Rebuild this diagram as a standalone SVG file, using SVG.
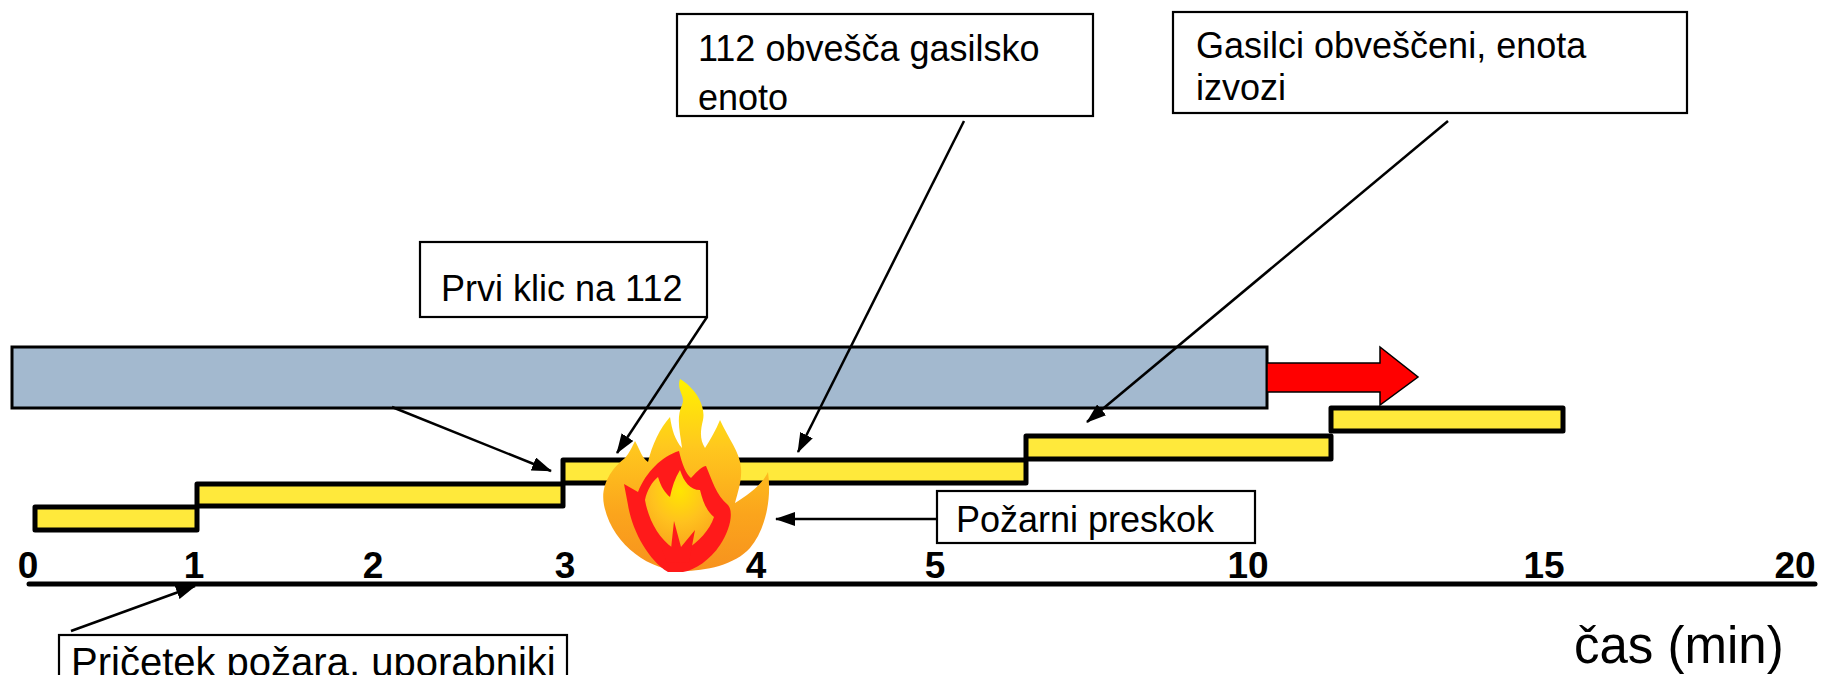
<svg xmlns="http://www.w3.org/2000/svg" width="1827" height="675" viewBox="0 0 1827 675">
<style>
.box{fill:#fff;stroke:#000;stroke-width:2.2}
.lbl{font-family:"Liberation Sans",Arial,sans-serif;font-size:36px;fill:#000}
.num{font-family:"Liberation Sans",Arial,sans-serif;font-size:37px;font-weight:bold;fill:#000;text-anchor:middle}
.step{fill:#FFE93B;stroke:#000;stroke-width:5;stroke-linejoin:round}
.con{stroke:#000;stroke-width:2.5;fill:none;marker-end:url(#ah)}
</style>
<defs>
<marker id="ah" markerUnits="userSpaceOnUse" markerWidth="20" markerHeight="14" refX="19" refY="7" orient="auto">
<path d="M0,0 L20,7 L0,14 z" fill="#000"/>
</marker>
<linearGradient id="flameG" x1="0" y1="0" x2="0" y2="1" gradientUnits="objectBoundingBox">
<stop offset="0" stop-color="#FFF200"/>
<stop offset="0.35" stop-color="#FFC81E"/>
<stop offset="0.7" stop-color="#FBA51C"/>
<stop offset="1" stop-color="#F7921E"/>
</linearGradient>
<radialGradient id="innerG" cx="0.5" cy="0.25" r="0.8">
<stop offset="0" stop-color="#FFE600"/>
<stop offset="0.5" stop-color="#FFC21E"/>
<stop offset="1" stop-color="#F9A01B"/>
</radialGradient>
</defs>
<rect width="1827" height="675" fill="#fff"/>

<g id="timeline-bar">
<rect x="12" y="347" width="1255" height="61" fill="#A3B9CF" stroke="#000" stroke-width="3"/>
</g>
<g id="red-arrow">
<path d="M1267,363 L1380,363 L1380,347 L1418,377 L1380,405 L1380,392 L1267,392 Z" fill="#FF0000" stroke="#000" stroke-width="1.5"/>
</g>

<g id="steps">
<rect class="step" x="35" y="507" width="162" height="23"/>
<rect class="step" x="197" y="484" width="366" height="22"/>
<rect class="step" x="563" y="460" width="463" height="23"/>
<rect class="step" x="1026" y="436" width="305" height="23"/>
<rect class="step" x="1331" y="408" width="232" height="23"/>
</g>

<g id="fire">
<path d="M683,571 C650,571 612,545 604,505 C600,485 612,468 625,458 C630,452 632,447 635,441 C640,450 642,458 648,462 C652,445 660,428 670,417 C672,430 675,440 682,448 C680,432 676,418 682,405 C686,396 676,390 680,379 C695,388 706,405 703,420 C700,432 700,440 705,448 C710,440 716,430 720,420 C728,438 740,452 741,468 C742,480 738,492 735,503 C748,495 762,485 768,472 C772,500 765,530 750,548 C735,565 705,571 683,571 Z" fill="url(#flameG)"/>
<path d="M668,572 C648,560 632,530 628,505 L624,484 L638,492 C646,472 662,456 679,451 C682,464 686,474 691,478 C698,470 703,466 706,466 C712,480 716,495 728,505 C734,512 730,530 720,545 C710,560 695,570 683,572 Z" fill="#FF1A1A"/>
<path d="M673,548 C658,538 648,518 645,500 C647,490 652,482 658,477 C661,487 665,493 670,497 C672,487 675,478 680,470 C684,482 690,490 700,490 C703,502 706,510 714,517 C710,530 698,542 686,550 Z" fill="url(#innerG)"/>
<path d="M667,563 L656,533 L671,549 L674,521 L681,547 L695,530 L689,562 Z" fill="#FF1A1A"/>
</g>

<g id="axis">
<line x1="29" y1="584" x2="1815" y2="584" stroke="#000" stroke-width="5" stroke-linecap="round"/>
<text class="num" x="28" y="578">0</text>
<text class="num" x="194" y="578">1</text>
<text class="num" x="373" y="578">2</text>
<text class="num" x="565" y="578">3</text>
<text class="num" x="756" y="578">4</text>
<text class="num" x="935" y="578">5</text>
<text class="num" x="1248" y="578">10</text>
<text class="num" x="1544" y="578">15</text>
<text class="num" x="1795" y="578">20</text>
<text x="1574" y="663" style="font-family:'Liberation Sans',Arial,sans-serif;font-size:51px;fill:#000">čas (min)</text>
</g>

<g id="node-obvesca">
<rect class="box" x="677" y="14" width="416" height="102"/>
<text class="lbl" x="698" y="61">112 obvešča gasilsko</text>
<text class="lbl" x="698" y="110">enoto</text>
</g>
<g id="node-gasilci">
<rect class="box" x="1173" y="12" width="514" height="101"/>
<text class="lbl" x="1196" y="58">Gasilci obveščeni, enota</text>
<text class="lbl" x="1196" y="100">izvozi</text>
</g>
<g id="node-prvi-klic">
<rect class="box" x="420" y="242" width="287" height="75"/>
<text class="lbl" x="441" y="301">Prvi klic na 112</text>
</g>
<g id="node-preskok">
<rect class="box" x="937" y="491" width="318" height="52"/>
<text class="lbl" x="956" y="532">Požarni preskok</text>
</g>
<g id="node-pricetek">
<rect class="box" x="59" y="635" width="508" height="60"/>
<text class="lbl" x="71" y="676" style="font-size:40px">Pričetek požara, uporabniki</text>
</g>

<g id="connectors">
<line class="con" x1="392" y1="407" x2="551" y2="471"/>
<line class="con" x1="707" y1="317" x2="617" y2="453"/>
<line class="con" x1="964" y1="121" x2="798" y2="452"/>
<line class="con" x1="1448" y1="121" x2="1087" y2="422"/>
<line class="con" x1="937" y1="519" x2="776" y2="519"/>
<line class="con" x1="71" y1="631" x2="195" y2="586"/>
</g>
</svg>
